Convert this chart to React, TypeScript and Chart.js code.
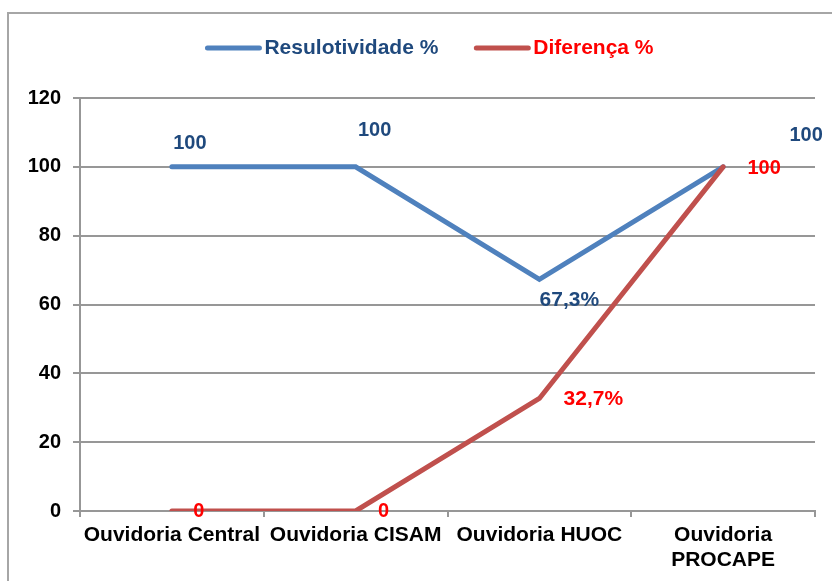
import React, { useEffect, useRef } from 'react';
import { Chart, registerables } from 'chart.js';

Chart.register(...registerables);

// ---- data ----
const categories: (string | string[])[] = [
  'Ouvidoria Central',
  'Ouvidoria CISAM',
  'Ouvidoria HUOC',
  ['Ouvidoria', 'PROCAPE'],
];
const resolutividade = [100, 100, 67.3, 100];
const diferenca = [0, 0, 32.7, 100];
const seriesNames = ['Resulotividade %', 'Diferença %'];
const yMin = 0;
const yMax = 120;
const yStep = 20;

// ---- styles ----
const FONT = "'Liberation Sans', Arial, sans-serif";
const lineColors = ['#4F81BD', '#C0504D'];
const textColors = ['#1F497D', '#FF0000'];
// per-point label offsets (pixels from the point)
const labelOffsets = [
  [[18, -23], [19, -36], [30, 21], [83, -31]],
  [[27, 0], [28, 0], [54, 1], [41, 2]],
];

const fmt = (v: number) => (Number.isInteger(v) ? String(v) : v.toFixed(1).replace('.', ',') + '%');

const labelPlugin = {
  id: 'pointLabels',
  afterDatasetsDraw(chart: any) {
    const ctx = chart.ctx;
    ctx.save();
    ctx.textAlign = 'center';
    ctx.textBaseline = 'middle';
    chart.data.datasets.forEach((ds: any, di: number) => {
      const meta = chart.getDatasetMeta(di);
      ctx.fillStyle = textColors[di];
      meta.data.forEach((pt: any, i: number) => {
        const [dx, dy] = labelOffsets[di][i];
        const txt = fmt(ds.data[i]);
        ctx.font = `bold ${txt.includes('%') ? 21 : 20}px ${FONT}`;
        ctx.fillText(txt, pt.x + dx, pt.y + dy);
      });
    });
    ctx.restore();
  },
};

const legendPlugin = {
  id: 'customLegend',
  afterDraw(chart: any) {
    const ctx = chart.ctx;
    ctx.save();
    ctx.font = `bold 21px ${FONT}`;
    ctx.textBaseline = 'middle';
    const lineLen = 56;
    const gapText = 3;
    const gapItems = 36;
    const widths = seriesNames.map((n) => ctx.measureText(n).width);
    const total = widths.reduce((a, w) => a + lineLen + gapText + w, 0) + gapItems * (seriesNames.length - 1);
    const center = (chart.chartArea.left + chart.chartArea.right) / 2 - 18;
    let x = center - total / 2;
    const y = 48;
    seriesNames.forEach((name, i) => {
      ctx.strokeStyle = lineColors[i];
      ctx.lineWidth = 5;
      ctx.lineCap = 'round';
      ctx.beginPath();
      ctx.moveTo(x + 2, y);
      ctx.lineTo(x + lineLen - 2, y);
      ctx.stroke();
      x += lineLen + gapText;
      ctx.fillStyle = textColors[i];
      ctx.textAlign = 'left';
      ctx.fillText(name, x, y);
      x += widths[i] + gapItems;
    });
    ctx.restore();
  },
};

export default function App() {
  const ref = useRef<HTMLCanvasElement | null>(null);

  useEffect(() => {
    document.documentElement.style.overflow = 'hidden';
    document.body.style.overflow = 'hidden';
    const canvas = ref.current;
    if (!canvas) return;
    const gridColor = '#979797';
    const chart = new Chart(canvas, {
      type: 'line',
      data: {
        labels: categories,
        datasets: [
          {
            label: seriesNames[0],
            data: resolutividade,
            borderColor: lineColors[0],
            backgroundColor: lineColors[0],
            borderWidth: 5,
            borderCapStyle: 'round',
            pointRadius: 0,
            tension: 0,
            order: 1,
          },
          {
            label: seriesNames[1],
            data: diferenca,
            borderColor: lineColors[1],
            backgroundColor: lineColors[1],
            borderWidth: 5,
            borderCapStyle: 'round',
            pointRadius: 0,
            tension: 0,
            order: 0,
          },
        ],
      },
      options: {
        responsive: false,
        animation: false,
        devicePixelRatio: 1,
        layout: { padding: { left: 0, right: 17, top: 98, bottom: 0 } },
        plugins: {
          legend: { display: false },
          tooltip: { enabled: false },
        },
        scales: {
          x: {
            offset: true,
            grid: {
              offset: true,
              drawOnChartArea: false,
              drawTicks: true,
              tickLength: 6,
              color: gridColor,
              lineWidth: 2,
            },
            border: { display: true, color: gridColor, width: 2 },
            ticks: {
              color: '#000',
              font: { family: FONT, size: 21, weight: 'bold', lineHeight: 1.22 },
              maxRotation: 0,
              minRotation: 0,
              autoSkip: false,
              padding: 5,
            },
            afterFit: (s: any) => {
              s.height = 70;
            },
          },
          y: {
            min: yMin,
            max: yMax,
            ticks: {
              stepSize: yStep,
              color: '#000',
              font: { family: FONT, size: 20, weight: 'bold' },
              padding: 12,
            },
            grid: {
              color: gridColor,
              lineWidth: 2,
              tickLength: 7,
            },
            border: { display: true, color: gridColor, width: 2 },
            afterFit: (s: any) => {
              s.width = 80;
            },
          },
        },
      },
      plugins: [labelPlugin, legendPlugin],
    } as any);
    return () => chart.destroy();
  }, []);

  return (
    <div style={{ position: 'fixed', left: 0, top: 0, width: 832, height: 581, background: '#fff', overflow: 'hidden' }}>
      <div
        style={{
          position: 'absolute',
          left: 7,
          top: 12,
          width: 860,
          height: 640,
          border: '2px solid #a6a6a6',
          boxSizing: 'border-box',
        }}
      />
      <canvas ref={ref} width={832} height={581} style={{ position: 'absolute', left: 0, top: 0, width: 832, height: 581 }} />
    </div>
  );
}
